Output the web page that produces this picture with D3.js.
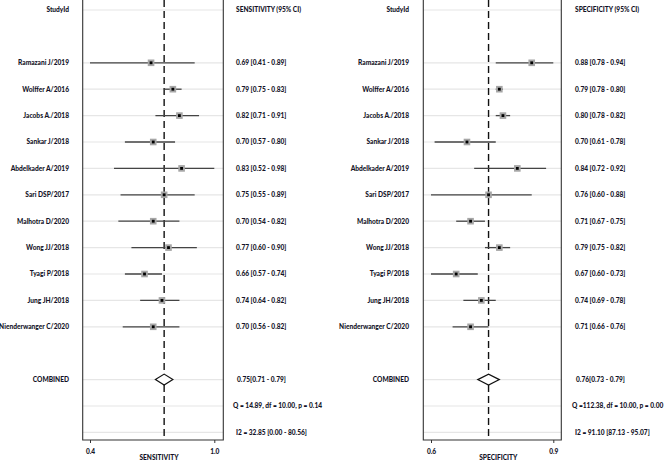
<!DOCTYPE html>
<html><head><meta charset="utf-8">
<script src="https://cdn.jsdelivr.net/npm/d3@7"></script>
<style>
body{margin:0;background:#fff;}
text{font-family:Lato,"Open Sans",sans-serif;font-weight:900;fill:#141428;}
</style></head>
<body><svg id="c" width="669" height="461"></svg>
<script>
const studies = ["Ramazani J/2019","Wolffer A/2016","Jacobs A./2018","Sankar J/2018","Abdelkader A/2019","Sari DSP/2017","Malhotra D/2020","Wong JJ/2018","Tyagi P/2018","Jung JH/2018","Nienderwanger C/2020"];
const sensEst = [0.69,0.79,0.82,0.70,0.83,0.75,0.70,0.77,0.66,0.74,0.70];
const sensLo  = [0.41,0.75,0.71,0.57,0.52,0.55,0.54,0.60,0.57,0.64,0.56];
const sensHi  = [0.89,0.83,0.91,0.80,0.98,0.89,0.82,0.90,0.74,0.82,0.82];
const specEst = [0.88,0.79,0.80,0.70,0.84,0.76,0.71,0.79,0.67,0.74,0.71];
const specLo  = [0.78,0.78,0.78,0.61,0.72,0.60,0.67,0.75,0.60,0.69,0.66];
const specHi  = [0.94,0.80,0.82,0.78,0.92,0.88,0.75,0.82,0.73,0.78,0.76];
const sensCombined = [0.75,0.71,0.79];
const specCombined = [0.76,0.73,0.79];
const sensQ = "Q = 14.89, df = 10.00, p =  0.14";
const specQ = "Q =112.38, df = 10.00, p =  0.00";
const sensI2 = "I2 = 32.85 [0.00 - 80.56]";
const specI2 = "I2 = 91.10 [87.13 - 95.07]";
const sensTicks = [0.41,0.98];
const specTicks = [0.60,0.94];

const svg = d3.select("#c");
const y = d3.scaleLinear().domain([0,16]).range([10,432.4]);
const fmt = d3.format(".2f");
const FS = "6.6px";

function panel(cfg){
  const g = svg.append("g");
  const x = d3.scaleLinear().domain(cfg.domain).range(cfg.range);
  const L = cfg.frame[0], R = cfg.frame[1], B = 440;
  const rows = [0].concat(d3.range(2,13)).concat([14,15,16]);
  g.selectAll("line.grid").data(rows).enter().append("line")
    .attr("x1",L).attr("x2",R).attr("y1",d=>y(d)).attr("y2",d=>y(d))
    .attr("stroke","#e6e6e6").attr("stroke-width",1.2);
  g.append("path").attr("d",`M${L},0V${B}H${R}V0`).attr("fill","none").attr("stroke","#333").attr("stroke-width",1.1);
  const ax = g.append("g").attr("transform",`translate(0,${B})`)
    .call(d3.axisBottom(x).tickValues(cfg.ticks).tickFormat(d3.format(".1f")).tickSize(3).tickPadding(6));
  ax.select(".domain").remove();
  ax.selectAll("line").attr("stroke","#333");
  ax.selectAll("text").style("font-size",FS).attr("fill","#141428").style("font-family","Lato").style("font-weight","900");
  g.append("text").attr("x",(L+R)/2+6).attr("y",460).attr("text-anchor","middle").style("font-size",FS).text(cfg.title);
  g.append("line").attr("x1",x(cfg.comb[0])).attr("x2",x(cfg.comb[0])).attr("y1",0).attr("y2",B)
    .attr("stroke","#111").attr("stroke-width",1.4).attr("stroke-dasharray","7,4");
  const idx = d3.range(studies.length);
  g.selectAll("line.ci").data(idx).enter().append("line")
    .attr("x1",i=>x(cfg.lo[i])).attr("x2",i=>x(cfg.hi[i]))
    .attr("y1",i=>y(i+2)).attr("y2",i=>y(i+2))
    .attr("stroke","#444").attr("stroke-width",1.3);
  g.selectAll("rect.box").data(idx).enter().append("rect")
    .attr("x",i=>x(cfg.est[i])-3.3).attr("y",i=>y(i+2)-3.3).attr("width",6.6).attr("height",6.6)
    .attr("fill","#a6a6a6");
  g.selectAll("rect.dot").data(idx).enter().append("rect")
    .attr("x",i=>x(cfg.est[i])-1.4).attr("y",i=>y(i+2)-1.4).attr("width",2.8).attr("height",2.8)
    .attr("fill","#000");
  const cy = y(14);
  g.append("path").attr("d",`M${x(cfg.comb[1])},${cy}L${x(cfg.comb[0])},${cy-5.5}L${x(cfg.comb[2])},${cy}L${x(cfg.comb[0])},${cy+5.5}Z`)
    .attr("fill","#fff").attr("stroke","#111").attr("stroke-width",1.2);
  const lab = g.append("g").style("font-size",FS);
  lab.append("text").attr("x",cfg.labX).attr("y",y(0)).attr("dy","0.35em").attr("text-anchor","end").text("StudyId");
  lab.selectAll("text.st").data(idx).enter().append("text")
    .attr("x",cfg.labX).attr("y",i=>y(i+2)).attr("dy","0.35em").attr("text-anchor","end").text(i=>studies[i]);
  lab.append("text").attr("x",cfg.labX).attr("y",y(14)).attr("dy","0.35em").attr("text-anchor","end").text("COMBINED");
  lab.append("text").attr("x",cfg.valX).attr("y",y(0)).attr("dy","0.35em").text(cfg.head);
  lab.selectAll("text.v").data(idx).enter().append("text")
    .attr("x",cfg.valX).attr("y",i=>y(i+2)).attr("dy","0.35em")
    .text(i=>`${fmt(cfg.est[i])} [${fmt(cfg.lo[i])} - ${fmt(cfg.hi[i])}]`);
  lab.append("text").attr("x",cfg.valX+1).attr("y",y(14)).attr("dy","0.35em")
    .text(`${fmt(cfg.comb[0])}[${fmt(cfg.comb[1])} - ${fmt(cfg.comb[2])}]`);
  lab.append("text").attr("x",cfg.valX-3).attr("y",y(15)).attr("dy","0.35em").text(cfg.q);
  lab.append("text").attr("x",cfg.valX).attr("y",y(16)).attr("dy","0.35em").text(cfg.i2);
}

panel({domain:[0.41,0.98],range:[90,214.3],frame:[82.7,223.3],ticks:sensTicks,title:"SENSITIVITY",
  est:sensEst,lo:sensLo,hi:sensHi,comb:sensCombined,labX:69,valX:236,head:"SENSITIVITY (95% CI)",q:sensQ,i2:sensI2});
panel({domain:[0.60,0.94],range:[431,553.3],frame:[423.3,561.3],ticks:specTicks,title:"SPECIFICITY",
  est:specEst,lo:specLo,hi:specHi,comb:specCombined,labX:409,valX:575,head:"SPECIFICITY (95% CI)",q:specQ,i2:specI2});
</script></body></html>
